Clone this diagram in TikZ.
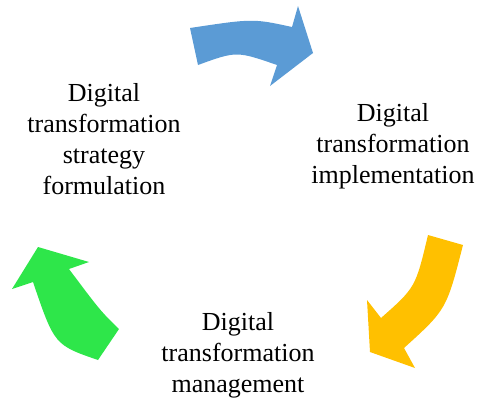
\documentclass[tikz,border=0pt]{standalone}
\usepackage{fontspec}
\setmainfont{Liberation Serif}
\begin{document}
\begin{tikzpicture}[x=1pt,y=-1pt,
  lbl/.style={align=center,font=\fontsize{26}{31}\selectfont,inner sep=0pt,anchor=base},
  arr/.style={draw=none}]
\useasboundingbox (0,0) rectangle (480,399);
\definecolor{cblue}{HTML}{5B9BD5}
\definecolor{corange}{HTML}{FFC000}
\definecolor{cgreen}{HTML}{2EE64A}
% blue arrow
\fill[cblue] (190,28) .. controls (253,18.5) .. (292,27) -- (298,6) -- (313,53) -- (270,86) -- (277,65)
  .. controls (236.5,51) .. (198,65) -- cycle;
% orange arrow
\fill[corange] (428,235) -- (463,245) .. controls (446.5,309.5) .. (404,348) -- (415,368) -- (370,352)
  -- (367,300) -- (381,318) .. controls (415.5,287.5) .. cycle;
% green arrow
\fill[cgreen] (98,360) -- (119,329) .. controls (100.5,311) .. (69,269) -- (89,262) -- (38,247)
  -- (12,289) -- (33,282) .. controls (54.5,345) .. cycle;
\node[lbl] (strat) at (104,194.7) {Digital\\transformation\\strategy\\formulation};
\node[lbl] (impl) at (393,183.7) {Digital\\transformation\\implementation};
\node[lbl] (mgmt) at (238,392.7) {Digital\\transformation\\management};
\end{tikzpicture}
\end{document}
